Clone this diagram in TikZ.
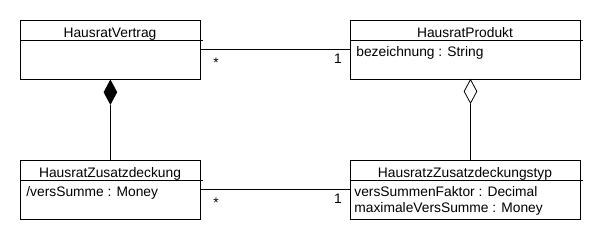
\documentclass[tikz,border=0pt]{standalone}
\usepackage{fontspec}
\setmainfont{Liberation Sans}
\usetikzlibrary{shapes.geometric}
\begin{document}
\begin{tikzpicture}[x=1pt,y=-1pt,
  line width=0.8pt,
  font=\fontsize{13.8}{16}\selectfont,
  classbox/.style={draw, rectangle, anchor=north west, inner sep=0pt, minimum height=59pt},
  title/.style={anchor=base, inner sep=0pt},
  attr/.style={anchor=base west, inner sep=0pt, align=left},
  mult/.style={anchor=base, inner sep=0pt},
  comp/.style={draw, diamond, fill=black, inner sep=0pt, minimum width=13pt, minimum height=24pt, anchor=north},
  aggr/.style={draw, diamond, fill=white, inner sep=0pt, minimum width=13pt, minimum height=24pt, anchor=north}]
\useasboundingbox (0,0) rectangle (600,240);

% class boxes
\node[classbox, minimum width=180pt] (vertrag) at (20,20) {};
\node[classbox, minimum width=230pt] (produkt) at (350,20) {};
\node[classbox, minimum width=180pt] (zusatz)  at (20,160) {};
\node[classbox, minimum width=230pt] (typ)     at (350,160) {};

% compartment separators
\foreach \b in {vertrag,produkt,zusatz,typ}
  \draw ([yshift=-20pt]\b.north west) -- ([xshift=2pt,yshift=-20pt]\b.north east);

% class names
\node[title] (vertragname) at (110,37.3) {HausratVertrag};
\node[title] (produktname) at (465,37.3) {HausratProdukt};
\node[title] (zusatzname)  at (110,177.3) {HausratZusatzdeckung};
\node[title] (typname)     at (465,177.3) {HausratzZusatzdeckungstyp};

% attributes
\node[attr] (produktattr) at (356,57) {bezeichnung : String};
\node[attr] (zusatzattr)  at (26,196.5) {/versSumme : Money};
\node[attr] (typattr1)    at (354,196.5) {versSummenFaktor : Decimal};
\node[attr] (typattr2)    at (354,212.5) {maximaleVersSumme : Money};

% associations
\draw (vertrag.east) -- (vertrag.east -| produkt.west);
\draw (zusatz.east) -- (zusatz.east -| typ.west);
\node[mult] (m1) at (216,68) {*};
\node[mult] (m2) at (338,63.5) {1};
\node[mult] (m3) at (216,208) {*};
\node[mult] (m4) at (338,203.5) {1};

% composition and aggregation
\node[comp] (compd) at (vertrag.south) {};
\draw (compd.south) -- (compd.south |- zusatz.north);
\node[aggr] (aggrd) at (470.5,79) {};
\draw (aggrd.south) -- (aggrd.south |- typ.north);
\end{tikzpicture}
\end{document}
